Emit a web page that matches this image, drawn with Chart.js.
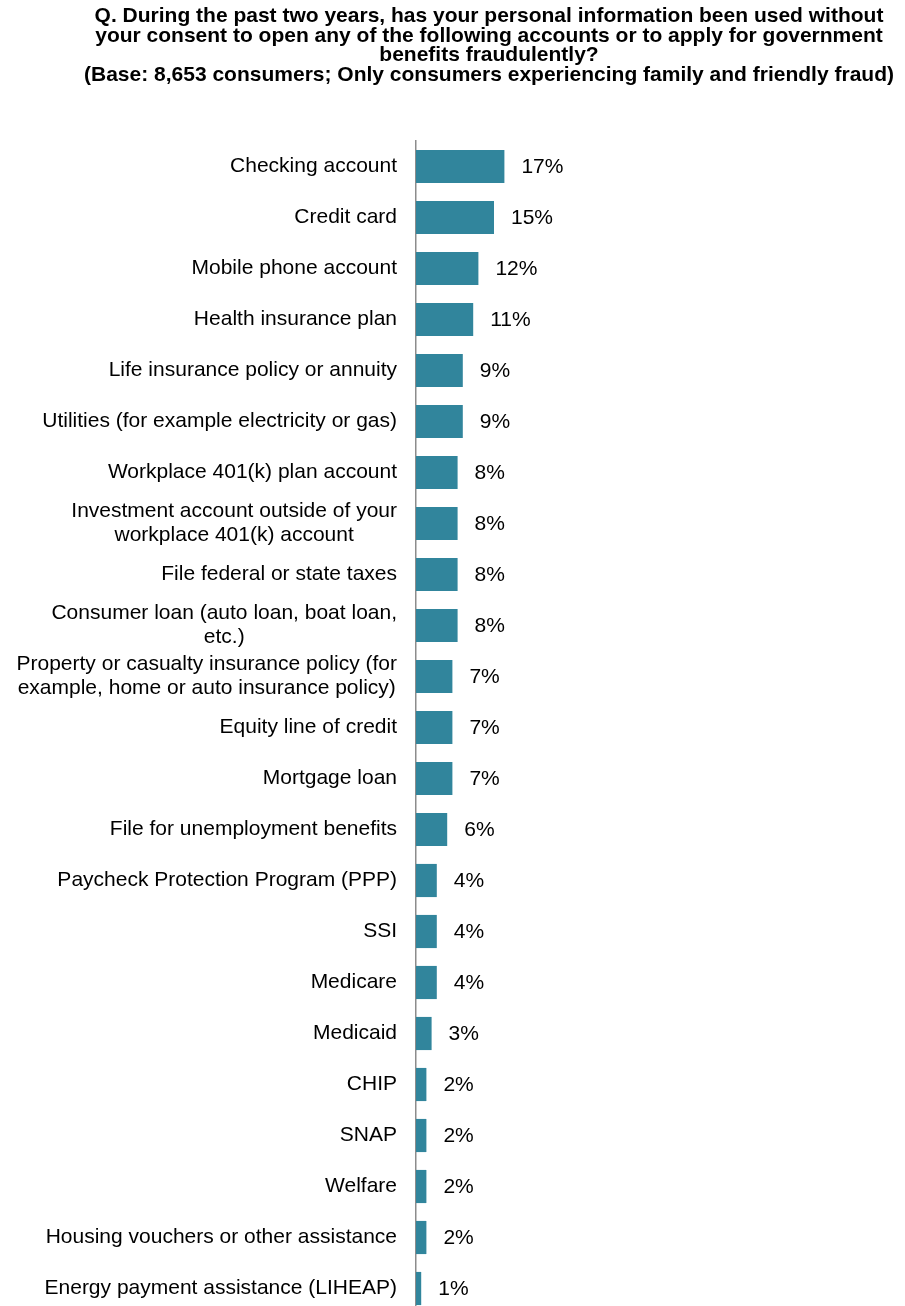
<!DOCTYPE html>
<html>
<head>
<meta charset="utf-8">
<script src="https://cdn.jsdelivr.net/npm/chart.js@4.4.1/dist/chart.umd.min.js"></script>
<style>
  html, body { margin: 0; padding: 0; background: #fff; overflow: hidden; }
  #wrap { position: relative; width: 905px; height: 1306px; overflow: hidden; }
  #title {
    position: absolute; left: 39px; top: 5px; width: 900px;
    font: bold 21px "Liberation Sans", Arial, sans-serif;
    line-height: 19.7px; text-align: center; color: #000; white-space: nowrap;
  }
  #chart { position: absolute; left: 0; top: 0; }
</style>
</head>
<body>
<div id="wrap">
  <canvas id="chart" width="905" height="1320"></canvas>
  <div id="title">
    Q. During the past two years, has your personal information been used without<br>
    your consent to open any of the following accounts or to apply for government<br>
    benefits fraudulently?<br>
    (Base: 8,653 consumers; Only consumers experiencing family and friendly fraud)
  </div>
</div>
<script>
const categories = [
  'Checking account',
  'Credit card',
  'Mobile phone account',
  'Health insurance plan',
  'Life insurance policy or annuity',
  'Utilities (for example electricity or gas)',
  'Workplace 401(k) plan account',
  ['Investment account outside of your', 'workplace 401(k) account'],
  'File federal or state taxes',
  ['Consumer loan (auto loan, boat loan,', 'etc.)'],
  ['Property or casualty insurance policy (for', 'example, home or auto insurance policy)'],
  'Equity line of credit',
  'Mortgage loan',
  'File for unemployment benefits',
  'Paycheck Protection Program (PPP)',
  'SSI',
  'Medicare',
  'Medicaid',
  'CHIP',
  'SNAP',
  'Welfare',
  'Housing vouchers or other assistance',
  'Energy payment assistance (LIHEAP)'
];

const percentages = [17, 15, 12, 11, 9, 9, 8, 8, 8, 8, 7, 7, 7, 6, 4, 4, 4, 3, 2, 2, 2, 2, 1];

const FONT = '21px "Liberation Sans", Arial, sans-serif';

// category names (multi-line ones centred as a block) and the % after each bar
const barLabels = {
  id: 'barLabels',
  afterDatasetsDraw(chart) {
    const ctx = chart.ctx;
    const yScale = chart.scales.y;
    const meta = chart.getDatasetMeta(0);
    ctx.save();
    ctx.font = FONT;
    ctx.fillStyle = '#000';
    ctx.textBaseline = 'middle';

    categories.forEach((cat, i) => {
      const lines = Array.isArray(cat) ? cat : [cat];
      const y = yScale.getPixelForValue(i);
      const blockW = Math.max(...lines.map(l => ctx.measureText(l).width));
      const cx = chart.chartArea.left - 19 - blockW / 2;
      const lineH = 24;
      ctx.textAlign = 'center';
      lines.forEach((l, j) => {
        ctx.fillText(l, cx, y + (j - (lines.length - 1) / 2) * lineH);
      });
    });

    ctx.textAlign = 'left';
    meta.data.forEach((bar, i) => {
      ctx.fillText(percentages[i] + '%', bar.x + 17, bar.y + 1);
    });
    ctx.restore();
  }
};

new Chart(document.getElementById('chart'), {
  type: 'bar',
  data: {
    labels: categories,
    datasets: [{
      data: percentages,
      backgroundColor: '#31859C',
      barPercentage: 0.65,
      categoryPercentage: 1
    }]
  },
  options: {
    indexAxis: 'y',
    responsive: false,
    animation: false,
    devicePixelRatio: 1,
    layout: { padding: { top: 141, bottom: 6, right: 21, left: 0 } },
    plugins: {
      legend: { display: false },
      tooltip: { enabled: false }
    },
    scales: {
      x: {
        display: false,
        min: 0,
        max: 90
      },
      y: {
        grid: { display: false },
        ticks: { display: false },
        border: { display: true, color: '#8c8c8c', width: 1.5 },
        afterFit: scale => { scale.width = 416; }
      }
    }
  },
  plugins: [barLabels]
});
</script>
</body>
</html>
